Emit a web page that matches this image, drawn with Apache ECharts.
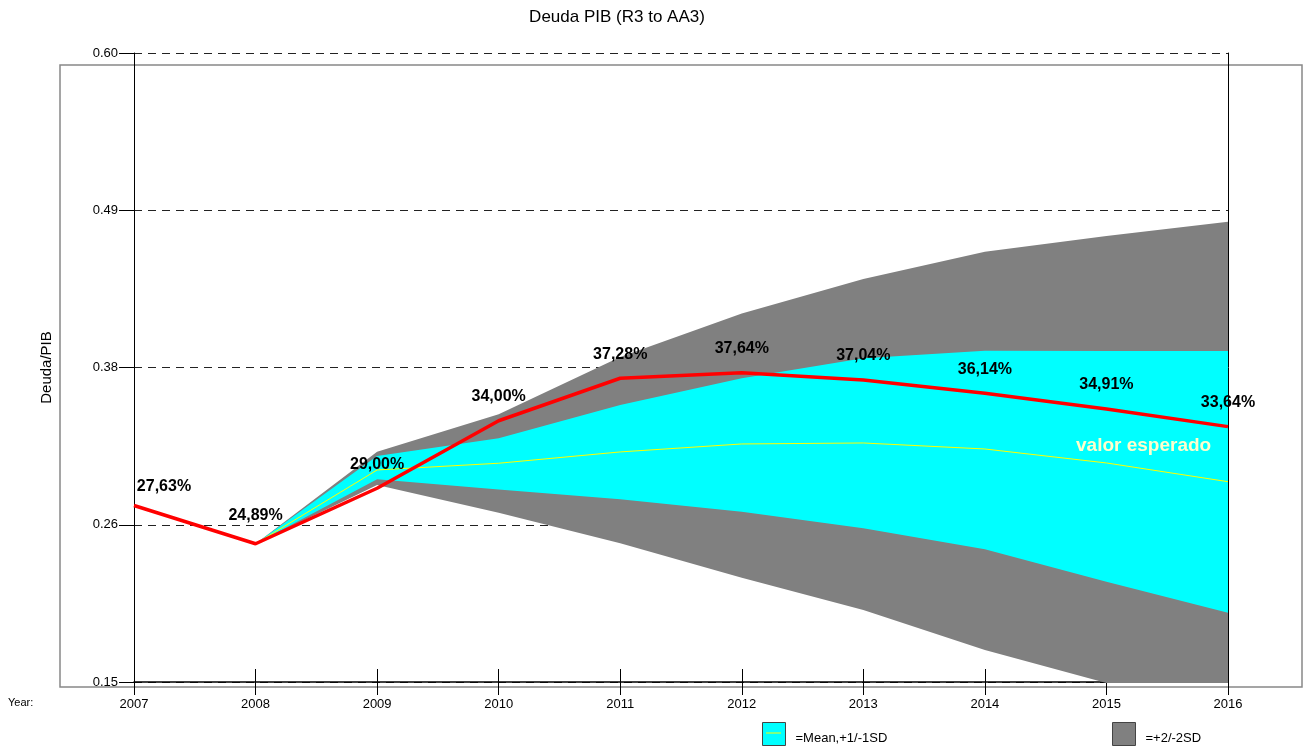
<!DOCTYPE html>
<html>
<head>
<meta charset="utf-8">
<title>Deuda PIB</title>
<script src="https://cdn.jsdelivr.net/npm/echarts@6/dist/echarts.min.js"></script>
<style>
  html, body { margin: 0; padding: 0; background: #fff; }
  #chart { width: 1308px; height: 751px; }
</style>
</head>
<body>
<div id="chart"></div>
<script>
// datos (posición de las líneas) y etiquetas tal como aparecen
const years = ['2007', '2008', '2009', '2010', '2011', '2012', '2013', '2014', '2015', '2016']
const deuda = [0.2763, 0.2489, 0.2886, 0.3369, 0.3673, 0.3713, 0.3661, 0.3565, 0.3453, 0.3327]
const etiquetas = ['27,63%', '24,89%', '29,00%', '34,00%', '37,28%', '37,64%', '37,04%', '36,14%', '34,91%', '33,64%']
const media = [null, 0.2489, 0.3017, 0.3065, 0.3146, 0.3203, 0.3210, 0.3167, 0.3067, 0.2933]
const sd1Alto = [null, 0.2489, 0.3117, 0.3243, 0.3482, 0.3673, 0.3816, 0.3870, 0.3868, 0.3868]
const sd1Bajo = [null, 0.2489, 0.2950, 0.2877, 0.2807, 0.2718, 0.2600, 0.2449, 0.2218, 0.1996]
const sd2Alto = [null, 0.2489, 0.3148, 0.3416, 0.3825, 0.4137, 0.4383, 0.4578, 0.4691, 0.4793]
const sd2Bajo = [null, 0.2489, 0.2910, 0.2710, 0.2492, 0.2246, 0.2015, 0.1729, 0.1493, 0.1250]
const yTicks = [0.15, 0.2625, 0.375, 0.4875, 0.60]

const FONT = 'Liberation Sans, Arial, sans-serif'

const vals = arr => arr.map(v => (v == null ? '-' : v))
const diff = (hi, lo) => hi.map((v, i) => (v == null ? '-' : +(v - lo[i]).toFixed(4)))

const chart = echarts.init(document.getElementById('chart'))

// ajustes de etiquetas que en el original no quedan centradas
const labelFor = i => {
  if (i === 0) return { offset: [30, 5] }
  if (i === 1) return { offset: [0, -4] }
  return {}
}

const legendText = {
  fontFamily: FONT,
  fontSize: 13,
  color: '#000',
  rich: {
    t: { fontFamily: FONT, fontSize: 13, color: '#000', padding: [8, 0, 0, 5] }
  }
}

const option = {
  animation: false,
  title: {
    text: 'Deuda PIB (R3 to AA3)',
    left: 612,
    textAlign: 'center',
    top: 4,
    textStyle: { fontFamily: FONT, fontSize: 17, fontWeight: 'normal', color: '#000' }
  },
  grid: {
    left: 134,
    right: 80,
    top: 53,
    bottom: 69
  },
  legend: [
    {
      data: ['=Mean,+1/-1SD'],
      left: 757,
      top: 717,
      icon: 'rect',
      itemWidth: 23,
      itemHeight: 23,
      itemStyle: { borderColor: '#444', borderWidth: 1 },
      formatter: name => '{t|' + name + '}',
      textStyle: legendText
    },
    {
      data: ['=+2/-2SD'],
      left: 1107,
      top: 717,
      icon: 'rect',
      itemWidth: 23,
      itemHeight: 23,
      itemStyle: { borderColor: '#444', borderWidth: 1 },
      formatter: name => '{t|' + name + '}',
      textStyle: legendText
    }
  ],
  xAxis: [
    {
      type: 'category',
      data: years,
      boundaryGap: false,
      axisLine: { show: true, lineStyle: { color: '#000', width: 1.5 } },
      axisTick: { show: true, interval: 0, length: 13, lineStyle: { color: '#000' } },
      axisLabel: { margin: 16, interval: 0, fontFamily: FONT, fontSize: 13, color: '#000' },
      splitLine: { show: false }
    },
    {
      type: 'category',
      data: years,
      boundaryGap: false,
      position: 'bottom',
      axisLine: { show: false },
      axisTick: { show: true, interval: 0, inside: true, length: 13, lineStyle: { color: '#000' } },
      axisLabel: { show: false },
      splitLine: { show: false }
    }
  ],
  yAxis: [
    {
      type: 'value',
      min: 0.15,
      max: 0.60,
      name: 'Deuda/PIB',
      nameLocation: 'middle',
      nameRotate: 90,
      nameGap: 80,
      nameTextStyle: { fontFamily: FONT, fontSize: 15, color: '#000' },
      axisLine: { show: true, lineStyle: { color: '#000' } },
      axisTick: { show: true, length: 15, customValues: yTicks, lineStyle: { color: '#000' } },
      axisLabel: {
        margin: 16,
        customValues: yTicks,
        fontFamily: FONT,
        fontSize: 13,
        color: '#000',
        formatter: v => v.toFixed(2)
      },
      splitLine: { show: true, lineStyle: { color: '#222', type: [8, 6], width: 1 } }
    },
    {
      type: 'value',
      position: 'right',
      min: 0.15,
      max: 0.60,
      axisLine: { show: true, lineStyle: { color: '#000' } },
      axisTick: { show: false },
      axisLabel: { show: false },
      splitLine: { show: false }
    }
  ],
  series: [
    {
      name: 'sd2base',
      type: 'line',
      stack: 'sd2',
      data: vals(sd2Bajo),
      symbol: 'none',
      lineStyle: { opacity: 0 },
      silent: true
    },
    {
      name: '=+2/-2SD',
      type: 'line',
      stack: 'sd2',
      data: diff(sd2Alto, sd2Bajo),
      symbol: 'none',
      lineStyle: { opacity: 0 },
      itemStyle: { color: '#808080' },
      areaStyle: { color: '#808080', opacity: 1 },
      silent: true
    },
    {
      name: 'sd1base',
      type: 'line',
      stack: 'sd1',
      data: vals(sd1Bajo),
      symbol: 'none',
      lineStyle: { opacity: 0 },
      silent: true
    },
    {
      name: '=Mean,+1/-1SD',
      type: 'line',
      stack: 'sd1',
      data: diff(sd1Alto, sd1Bajo),
      symbol: 'none',
      lineStyle: { opacity: 0 },
      itemStyle: { color: '#00FFFF' },
      areaStyle: { color: '#00FFFF', opacity: 1 },
      silent: true
    },
    {
      name: 'media',
      type: 'line',
      data: vals(media),
      symbol: 'none',
      lineStyle: { color: '#FFFF00', width: 1 },
      silent: true
    },
    {
      name: 'deuda',
      type: 'line',
      data: deuda.map((v, i) => ({ value: v, label: labelFor(i) })),
      symbol: 'circle',
      symbolSize: 0,
      showAllSymbol: true,
      itemStyle: { color: '#FF0000' },
      lineStyle: { color: '#FF0000', width: 3.5 },
      label: {
        show: true,
        position: 'top',
        distance: 16,
        fontFamily: FONT,
        fontSize: 16,
        fontWeight: 'bold',
        color: '#000',
        formatter: p => etiquetas[p.dataIndex]
      },
      z: 5
    }
  ],
  graphic: [
    {
      type: 'rect',
      shape: { x: 60, y: 65, width: 1242, height: 622 },
      style: { fill: 'none', stroke: '#888', lineWidth: 1.5 },
      z: -1,
      silent: true
    },
    {
      type: 'text',
      left: 8,
      top: 697,
      style: { text: 'Year:', font: '11px ' + FONT, fill: '#000' }
    },
    {
      type: 'text',
      left: 1076,
      top: 436,
      style: { text: 'valor esperado', font: 'bold 19px ' + FONT, fill: '#FFFFCC' },
      z: 10
    },
    {
      type: 'line',
      shape: { x1: 766, y1: 733, x2: 781, y2: 733 },
      style: { stroke: '#FFFF00', lineWidth: 1 },
      z: 100
    }
  ]
}

chart.setOption(option)
</script>
</body>
</html>
